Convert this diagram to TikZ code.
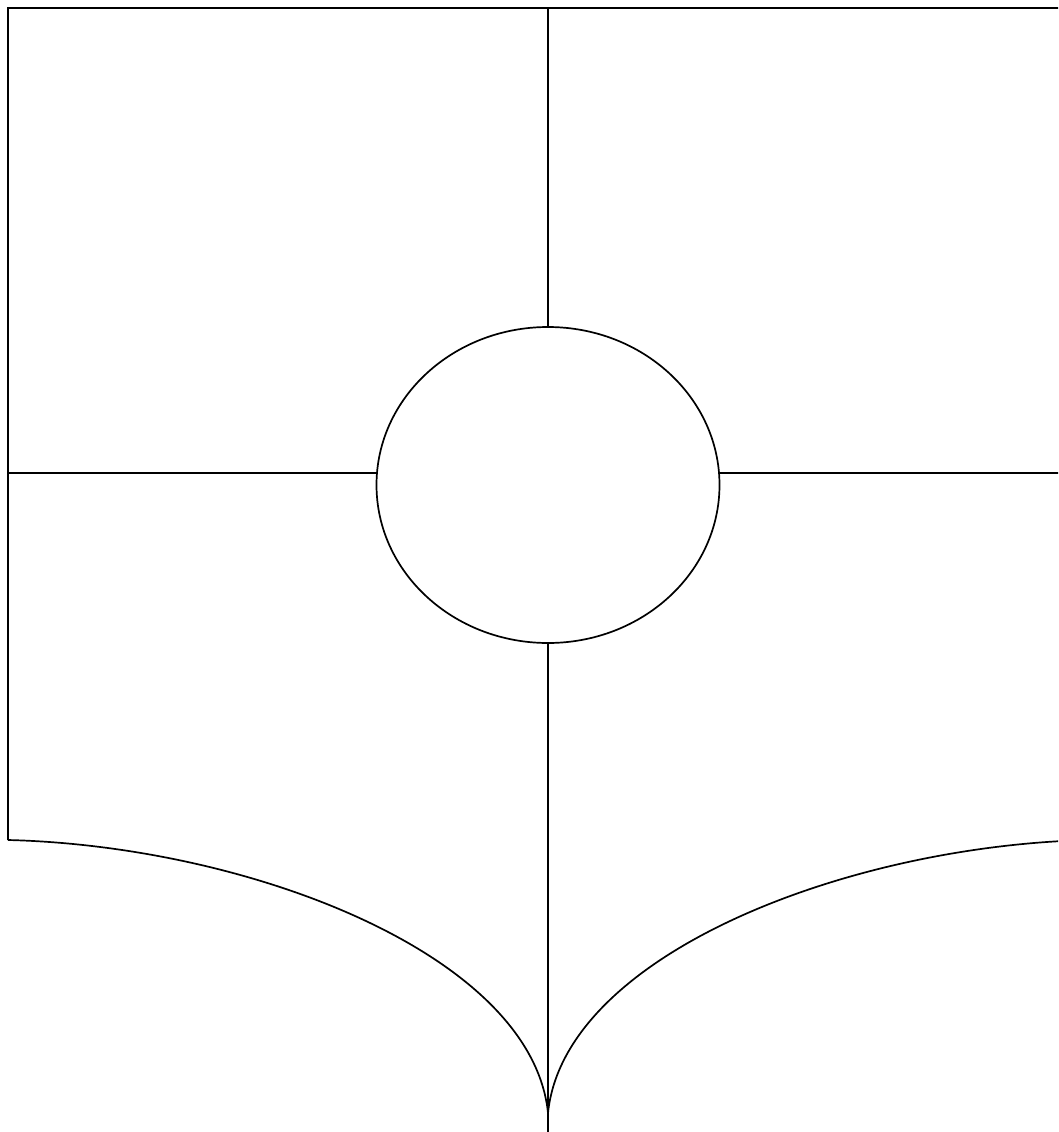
\documentclass[tikz,border=0pt]{standalone}
\usetikzlibrary{shapes.geometric}
\begin{document}
\begin{tikzpicture}[x=1pt,y=-1pt,
  shieldline/.style={draw=black,line width=1.7pt}]
\useasboundingbox (0,0) rectangle (1058,1132);
\clip (0,0) rectangle (1058,1132);
\fill[white] (0,0) rectangle (1058,1132);
% key points
\coordinate (tl) at (8,8);
\coordinate (tr) at (1088,8);
\coordinate (bl) at (8,840);
\coordinate (br) at (1088,840);
\coordinate (tip) at (548,1113);
\coordinate (topmid) at (548,8);
\coordinate (botmid) at (548,1132);
\coordinate (lmid) at (8,473);
\coordinate (rmid) at (1088,473);
\node[shieldline,ellipse,minimum width=343pt,minimum height=316pt,inner sep=0pt] (disc) at (548,485) {};
% outline
\draw[shieldline] (bl) -- (tl) -- (tr) -- (br);
\draw[shieldline] (bl) .. controls (250,846) and (532,955) .. (tip);
\draw[shieldline] (br) .. controls (846,846) and (564,955) .. (tip);
% cross
\draw[shieldline] (topmid) -- (disc.north);
\draw[shieldline] (disc.south) -- (botmid);
\draw[shieldline] (lmid) -- (lmid -| disc.west);
\draw[shieldline] (rmid -| disc.east) -- (rmid);
\end{tikzpicture}
\end{document}
